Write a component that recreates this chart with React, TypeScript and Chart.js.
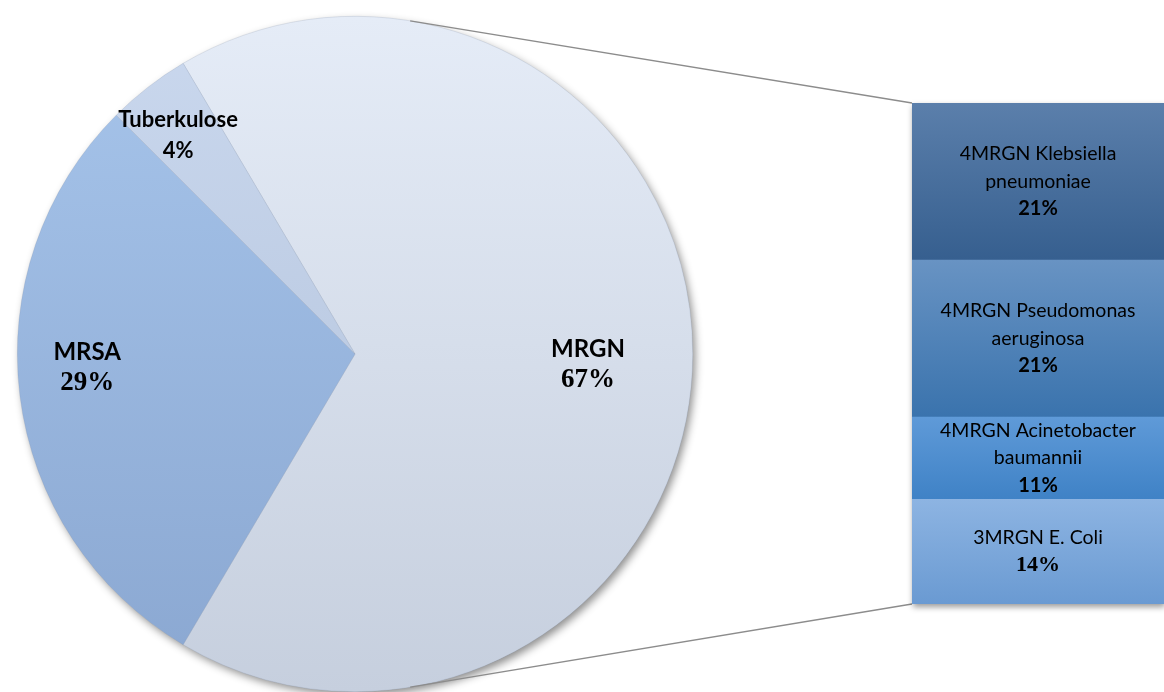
import React, { useEffect, useRef } from "react";
import { Chart, registerables } from "chart.js";

Chart.register(...registerables);

// ---- data ----
const pieLabels = ["MRGN", "MRSA", "Tuberkulose"];
const pieValues = [67, 29, 4];
const pieTopColors = ["#e5ecf7", "#a7c5eb", "#cad8ee"];
const pieBottomColors = ["#c6cfde", "#8aa7d1", "#b0c0d9"];
const piePctSerif = [true, true, false];
const pieLabelSize = [24, 24, 22];

const barNames = [
  ["3MRGN E. Coli"],
  ["4MRGN Acinetobacter", "baumannii"],
  ["4MRGN Pseudomonas", "aeruginosa"],
  ["4MRGN Klebsiella", "pneumoniae"],
];
const barValues = [14, 11, 21, 21];
const barTopColors = ["#8db4e2", "#5f9ad8", "#6893c3", "#5b7fab"];
const barBottomColors = ["#6a9ad2", "#3f82c6", "#3a73ad", "#365f8f"];
const barPctSerif = [true, false, false, false];

// ---- layout constants ----
const W = 1164;
const H = 692;
const PIE_ROTATION = -30.6;
const CONNECTOR_ANGLE = 80.6; // degrees from horizontal, on the pie edge
// label centres as fractions of the radius, relative to the pie centre
const pieLabelPos = [
  { dx: 0.69, dy: 0.03 },
  { dx: -0.793, dy: 0.038 },
  { dx: -0.524, dy: -0.649 },
];
const SANS = "Lato, 'Open Sans', sans-serif";
const SERIF = "'Liberation Serif', 'DejaVu Serif', serif";

export default function App() {
  const pieRef = useRef<HTMLCanvasElement | null>(null);
  const barRef = useRef<HTMLCanvasElement | null>(null);

  useEffect(() => {
    document.body.style.margin = "0";
    const pieCanvas = pieRef.current!;
    const barCanvas = barRef.current!;

    const pieShadow = {
      id: "pieShadow",
      beforeDatasetsDraw(chart: any) {
        const arc = chart.getDatasetMeta(0).data[0];
        if (!arc) return;
        const ctx = chart.ctx;
        ctx.save();
        ctx.shadowColor = "rgba(0,0,0,0.45)";
        ctx.shadowBlur = 9;
        ctx.shadowOffsetX = 3;
        ctx.shadowOffsetY = 4;
        ctx.fillStyle = "#d5dde9";
        ctx.beginPath();
        ctx.arc(arc.x, arc.y, arc.outerRadius - 0.5, 0, Math.PI * 2);
        ctx.fill();
        ctx.restore();
      },
      afterDatasetsDraw(chart: any) {
        const arcs = chart.getDatasetMeta(0).data;
        const ctx = chart.ctx;
        ctx.save();
        ctx.fillStyle = "#000";
        ctx.textAlign = "center";
        ctx.textBaseline = "middle";
        arcs.forEach((arc: any, i: number) => {
          const r = arc.outerRadius;
          const cx = arc.x + pieLabelPos[i].dx * r;
          const cy = arc.y + pieLabelPos[i].dy * r;
          ctx.font = `bold ${pieLabelSize[i]}px ${SANS}`;
          ctx.fillText(pieLabels[i], cx, cy - 15);
          ctx.font = piePctSerif[i] ? `bold 27px ${SERIF}` : `bold 22px ${SANS}`;
          ctx.fillText(`${pieValues[i]}%`, cx, cy + 16);
        });
        ctx.restore();
      },
    };

    const pieChart = new Chart(pieCanvas, {
      type: "pie",
      data: {
        labels: pieLabels,
        datasets: [
          {
            data: pieValues,
            backgroundColor: (c: any) => {
              const chart = c.chart;
              const area = chart.chartArea;
              if (!area) return pieTopColors[c.dataIndex];
              const g = chart.ctx.createLinearGradient(0, area.top, 0, area.bottom);
              g.addColorStop(0, pieTopColors[c.dataIndex]);
              g.addColorStop(1, pieBottomColors[c.dataIndex]);
              return g;
            },
            borderColor: "rgba(130,145,170,0.35)",
            borderWidth: 0.6,
          },
        ],
      },
      options: {
        responsive: false,
        animation: false,
        rotation: PIE_ROTATION,
        layout: { padding: { left: 17, top: 16, right: 471, bottom: 0 } },
        plugins: { legend: { display: false }, tooltip: { enabled: false } },
      },
      plugins: [pieShadow],
    } as any);

    const barDeco = {
      id: "barDeco",
      beforeDatasetsDraw(chart: any) {
        const ctx = chart.ctx;
        const a = chart.chartArea;
        // connector lines from the pie edge to the bar corners
        const arc = pieChart.getDatasetMeta(0).data[0] as any;
        if (arc) {
          const ang = (CONNECTOR_ANGLE * Math.PI) / 180;
          const r = arc.outerRadius;
          const px = arc.x + r * Math.cos(ang);
          const pyTop = arc.y - r * Math.sin(ang);
          const pyBot = arc.y + r * Math.sin(ang);
          ctx.save();
          ctx.strokeStyle = "#8c8c8c";
          ctx.lineWidth = 1.3;
          ctx.beginPath();
          ctx.moveTo(px, pyTop);
          ctx.lineTo(a.left, a.top);
          ctx.moveTo(px, pyBot);
          ctx.lineTo(a.left, a.bottom);
          ctx.stroke();
          ctx.restore();
        }
        ctx.save();
        ctx.shadowColor = "rgba(0,0,0,0.4)";
        ctx.shadowBlur = 6;
        ctx.shadowOffsetX = 1;
        ctx.shadowOffsetY = 3;
        ctx.fillStyle = "#5b8cc4";
        ctx.fillRect(a.left, a.top, a.right - a.left, a.bottom - a.top);
        ctx.restore();
      },
      afterDatasetsDraw(chart: any) {
        const ctx = chart.ctx;
        ctx.save();
        ctx.fillStyle = "#000";
        ctx.textAlign = "center";
        ctx.textBaseline = "middle";
        barValues.forEach((v, i) => {
          const el = chart.getDatasetMeta(i).data[0] as any;
          if (!el) return;
          const cx = el.x;
          const cy = (el.y + el.base) / 2;
          const lines = barNames[i];
          const n = lines.length + 1;
          const lh = 27.5;
          const y0 = cy - ((n - 1) * lh) / 2;
          ctx.font = `19.5px ${SANS}`;
          lines.forEach((t, k) => ctx.fillText(t, cx, y0 + k * lh));
          ctx.font = barPctSerif[i] ? `bold 22px ${SERIF}` : `bold 20px ${SANS}`;
          ctx.fillText(`${v}%`, cx, y0 + lines.length * lh);
        });
        ctx.restore();
      },
    };

    const barChart = new Chart(barCanvas, {
      type: "bar",
      data: {
        labels: [""],
        datasets: barValues.map((v, i) => ({
          label: barNames[i].join(" "),
          data: [v],
          backgroundColor: (c: any) => {
            const chart = c.chart;
            const y = chart.scales && chart.scales.y;
            if (!chart.chartArea || !y) return barTopColors[i];
            const start = barValues.slice(0, i).reduce((s, x) => s + x, 0);
            const yBot = y.getPixelForValue(start);
            const yTop = y.getPixelForValue(start + v);
            const g = chart.ctx.createLinearGradient(0, yTop, 0, yBot);
            g.addColorStop(0, barTopColors[i]);
            g.addColorStop(1, barBottomColors[i]);
            return g;
          },
          borderWidth: 0,
          barPercentage: 1,
          categoryPercentage: 1,
        })),
      },
      options: {
        responsive: false,
        animation: false,
        layout: { padding: { left: 912, top: 103, right: 0, bottom: 88 } },
        scales: {
          x: { display: false, stacked: true, grid: { display: false } },
          y: { display: false, stacked: true, min: 0, max: 67, grid: { display: false } },
        },
        plugins: { legend: { display: false }, tooltip: { enabled: false } },
      },
      plugins: [barDeco],
    } as any);

    return () => {
      barChart.destroy();
      pieChart.destroy();
    };
  }, []);

  return (
    <div style={{ position: "absolute", left: 0, top: 0, width: W, height: H, background: "#fff", overflow: "hidden" }}>
      <canvas ref={pieRef} width={W} height={H} style={{ position: "absolute", left: 0, top: 0 }} />
      <canvas ref={barRef} width={W} height={H} style={{ position: "absolute", left: 0, top: 0 }} />
    </div>
  );
}
